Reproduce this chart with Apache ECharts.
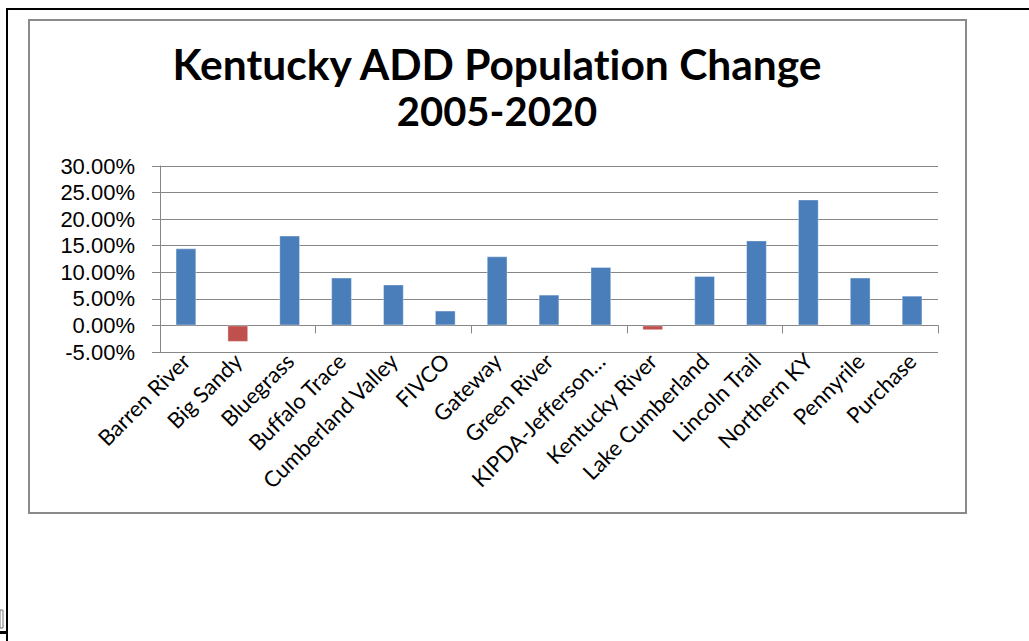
<!DOCTYPE html>
<html>
<head>
<meta charset="utf-8">
<style>
  html, body { margin: 0; padding: 0; background: #ffffff; }
  #chart { width: 1029px; height: 641px; }
  /* plain letterforms, no "ti" / "ff" ligatures */
  #chart text { font-variant-ligatures: none !important; }
</style>
<script src="https://cdn.jsdelivr.net/npm/echarts@6/dist/echarts.min.js"></script>
</head>
<body>
<div id="chart"></div>
<script>
// Area Development Districts and their projected population change, 2005-2020 (percent)
const districts = [
  'Barren River', 'Big Sandy', 'Bluegrass', 'Buffalo Trace', 'Cumberland Valley',
  'FIVCO', 'Gateway', 'Green River', 'KIPDA-Jefferson…', 'Kentucky River',
  'Lake Cumberland', 'Lincoln Trail', 'Northern KY', 'Pennyrile', 'Purchase'
];
const changePct = [14.5, -3.1, 16.9, 9.0, 7.7, 2.8, 13.0, 5.8, 11.0, -0.9, 9.3, 16.0, 23.7, 9.0, 5.6];

const titleLines = ['Kentucky ADD Population Change', '2005-2020'];
const yMin = -5, yMax = 30, yStep = 5;

const gridColor = '#868686';
const growthColor = '#4A7EBB';
const declineColor = '#C0504D';

const chart = echarts.init(document.getElementById('chart'), null, { renderer: 'svg' });

chart.setOption({
  backgroundColor: '#ffffff',
  animation: false,
  graphic: [
    // worksheet frame lines
    { type: 'polyline', silent: true, shape: { points: [[7, 641], [7, 9], [1029, 9]] },
      style: { stroke: '#000000', lineWidth: 2, fill: null } },
    { type: 'rect', silent: true, shape: { x: 0, y: 610, width: 3, height: 18 },
      style: { fill: null, stroke: '#777777', lineWidth: 1 } },
    { type: 'rect', silent: true, shape: { x: 0, y: 631, width: 7, height: 3 },
      style: { fill: '#000000' } },
    // chart area border
    { type: 'rect', silent: true, shape: { x: 29, y: 20, width: 937, height: 493 },
      style: { fill: null, stroke: '#8a8a8a', lineWidth: 2 } },
    // chart title
    { type: 'text', silent: true, style: { text: titleLines[0], x: 497, y: 63,
      textAlign: 'center', textVerticalAlign: 'middle',
      font: 'bold 42.5px Lato', fill: '#000000' } },
    { type: 'text', silent: true, style: { text: titleLines[1], x: 497, y: 111,
      textAlign: 'center', textVerticalAlign: 'middle',
      font: 'bold 40px Lato', fill: '#000000' } }
  ],
  grid: { left: 160, right: 91, top: 166, bottom: 289, containLabel: false },
  xAxis: [
    {
      type: 'category',
      data: districts,
      axisLine: { show: true, onZero: true, lineStyle: { color: gridColor, width: 1 } },
      axisTick: { show: true, alignWithLabel: false, length: 8, lineStyle: { color: gridColor } },
      axisLabel: { show: false },
      splitLine: { show: false }
    },
    {
      type: 'category',
      data: districts,
      position: 'bottom',
      axisLine: { show: false, onZero: false },
      axisTick: { show: false },
      axisLabel: {
        show: true, rotate: 45, margin: 5, interval: 0,
        fontFamily: 'Lato', fontSize: 22, color: '#000000'
      }
    }
  ],
  yAxis: {
    type: 'value',
    min: yMin, max: yMax, interval: yStep,
    axisLine: { show: true, lineStyle: { color: gridColor, width: 1 } },
    axisTick: { show: true, length: 8, lineStyle: { color: gridColor } },
    axisLabel: {
      margin: 25, fontFamily: 'Liberation Sans', fontSize: 22, color: '#000000',
      formatter: v => v.toFixed(2) + '%'
    },
    splitLine: { show: true, lineStyle: { color: gridColor, width: 1 } }
  },
  series: [{
    type: 'bar',
    xAxisIndex: 0,
    data: changePct,
    barCategoryGap: '60%',
    itemStyle: {
      color: p => (p.value < 0 ? declineColor : growthColor),
      borderColor: 'rgba(255,255,255,0.35)',
      borderWidth: 1
    }
  }]
});
</script>
</body>
</html>
